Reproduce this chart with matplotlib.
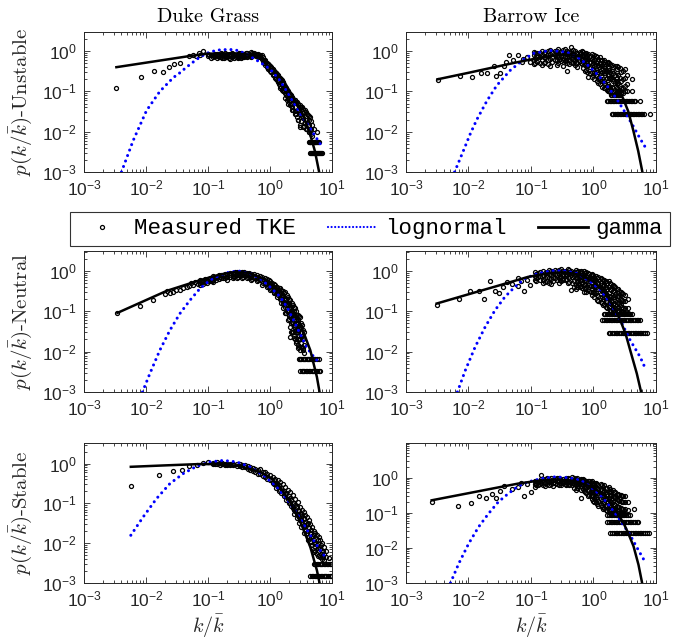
import numpy as np
import matplotlib.pyplot as plt
from matplotlib.lines import Line2D
from matplotlib.ticker import LogLocator, NullFormatter

plt.rcParams['font.family'] = 'Liberation Sans'
plt.rcParams['mathtext.fontset'] = 'cm'

# ---------------- Duke Grass, unstable ----------------
du_un_x = [0.00333, 0.00836, 0.0134, 0.0185, 0.0234, 0.0286, 0.0352, 0.0487, 0.058, 0.065, 0.0724, 0.074, 0.0841]
du_un_y = [0.123, 0.226, 0.324, 0.306, 0.40, 0.484, 0.513, 0.766, 0.81, 0.75, 0.89, 0.78, 1.0]
du_un_cols = [0.1, 0.12, 0.14, 0.16, 0.18, 0.2, 0.23, 0.26, 0.3, 0.34, 0.38, 0.43, 0.49, 0.56, 0.64,
              0.74, 0.8, 0.89, 1.0, 1.1, 1.2, 1.3, 1.42, 1.55, 1.7, 1.87, 2.05, 2.25, 2.5, 2.72,
              3.0, 3.3, 3.7, 4.1, 4.5, 5.06, 5.7]
du_un_vals = [[0.86, 0.75], [0.8, 0.7], [0.85, 0.68], [0.89, 0.72], [0.78, 0.68], [0.82, 0.7],
              [0.86, 0.74, 0.65], [0.8, 0.68], [0.85, 0.72, 0.66], [0.9, 0.75, 0.68], [0.85, 0.72],
              [0.9, 0.78, 0.7], [0.93, 0.8, 0.72], [0.9, 0.78], [0.85, 0.72],
              [0.78, 0.65], [0.62, 0.52], [0.5, 0.40], [0.42, 0.33], [0.36, 0.27], [0.30, 0.22],
              [0.27, 0.19], [0.22, 0.15], [0.19, 0.11], [0.14, 0.1], [0.096, 0.06], [0.085, 0.055],
              [0.072, 0.041], [0.06, 0.032], [0.054, 0.023], [0.045, 0.03, 0.013], [0.04, 0.025],
              [0.034, 0.016], [0.026, 0.014], [0.023, 0.012], [0.012], [0.0097]]
du_un_cols2 = [0.11, 0.13, 0.15, 0.17, 0.19, 0.215, 0.245, 0.28, 0.32, 0.36, 0.405, 0.46, 0.52, 0.6, 0.69,
               0.77, 0.84, 0.94, 1.05, 1.15, 1.25, 1.36, 1.48, 1.62, 1.78, 1.96, 2.15, 2.37, 2.6, 2.85,
               3.15, 3.5, 3.9, 4.3, 4.8]
du_un_vals2 = [[0.8, 0.68], [0.86, 0.74], [0.78, 0.7], [0.84, 0.66], [0.9, 0.74], [0.78, 0.68],
               [0.88, 0.7], [0.78, 0.7], [0.88, 0.74], [0.8, 0.7], [0.88, 0.74], [0.84, 0.74],
               [0.88, 0.76], [0.86, 0.74], [0.8, 0.7], [0.7, 0.58], [0.56, 0.46], [0.46, 0.36],
               [0.38, 0.3], [0.32, 0.25], [0.28, 0.2], [0.24, 0.17], [0.2, 0.13], [0.16, 0.11],
               [0.12, 0.08], [0.09, 0.065], [0.08, 0.05], [0.065, 0.035], [0.055, 0.028], [0.05, 0.02],
               [0.04, 0.018], [0.03, 0.014], [0.028, 0.012], [0.02, 0.01], [0.015, 0.008]]
du_un_cols3 = [0.105, 0.125, 0.145, 0.165, 0.195, 0.22, 0.25, 0.29, 0.33, 0.37, 0.42, 0.47, 0.54, 0.62, 0.7,
               0.82, 0.92, 1.02, 1.12, 1.23, 1.34, 1.46, 1.6, 1.75, 1.92, 2.1, 2.3, 2.55, 2.8, 3.1,
               3.4, 3.8, 4.2, 4.65]
du_un_vals3 = [[0.8], [0.76], [0.74], [0.8], [0.7], [0.76], [0.74], [0.76], [0.8], [0.76], [0.82], [0.8],
               [0.84], [0.8], [0.76], [0.6, 0.5], [0.48, 0.38], [0.4, 0.31], [0.34, 0.26], [0.29, 0.21],
               [0.25, 0.18], [0.21, 0.14, 0.12], [0.17, 0.12, 0.1], [0.13, 0.09, 0.07], [0.1, 0.07, 0.05],
               [0.085, 0.06, 0.045], [0.07, 0.05, 0.035], [0.06, 0.04, 0.027], [0.05, 0.035, 0.02],
               [0.042, 0.028, 0.015], [0.036, 0.022, 0.013], [0.03, 0.02, 0.012], [0.024, 0.015, 0.01],
               [0.018, 0.012, 0.009]]
du_un_bar_levels = [0.0057, 0.003]
du_un_bar_x = [[4.2, 4.35, 4.5, 4.65, 4.8, 4.95, 5.1, 5.25, 5.4, 5.6, 5.8, 6.0, 6.1],
               [4.47, 4.62, 4.8, 4.95, 5.1, 5.3, 5.5, 5.7, 5.9, 6.1, 6.4, 6.65, 6.9]]
du_un_logn_x = [0.00402, 0.0062, 0.0102, 0.0167, 0.0275, 0.0352, 0.045, 0.058, 0.074, 0.095, 0.122,
                0.157, 0.227, 0.29, 0.42, 0.69, 1.0, 1.44, 2.1, 3.08, 4.47, 6.46]
du_un_logn_y = [0.001, 0.006, 0.0335, 0.1, 0.22, 0.29, 0.40, 0.54, 0.71, 0.88, 1.0,
                1.08, 1.1, 1.05, 0.85, 0.53, 0.36, 0.19, 0.075, 0.028, 0.012, 0.005]
du_un_gam_x = [0.00333, 0.0452, 0.0951, 0.257, 0.612, 1.0, 1.65, 2.72, 3.5, 4.5, 5.3, 6.2]
du_un_gam_y = [0.40, 0.737, 0.86, 0.89, 0.78, 0.484, 0.187, 0.05, 0.024, 0.008, 0.0033, 0.001]

# ---------------- Barrow Ice, unstable ----------------
bi_un_x = [0.00321, 0.00738, 0.01135, 0.0158, 0.0197, 0.0252, 0.0274, 0.0321, 0.0364, 0.0401, 0.0453,
           0.0525, 0.0631, 0.0714, 0.0757, 0.085, 0.095]
bi_un_y = [0.195, 0.245, 0.227, 0.29, 0.29, 0.44, 0.235, 0.285, 0.44, 0.533, 0.78,
           0.587, 0.81, 0.533, 0.645, 0.70, 0.55]
bi_un_cols = [0.11, 0.125, 0.149, 0.17, 0.202, 0.24, 0.275, 0.32, 0.374, 0.43, 0.508, 0.6, 0.69,
              0.83, 0.938, 1.1, 1.27, 1.5, 1.73, 2.0, 2.35, 2.7, 3.2, 4.08]
bi_un_vals = [[0.97, 0.78, 0.60, 0.49], [0.9, 0.7, 0.55], [1.0, 0.80, 0.62, 0.45], [0.95, 0.72, 0.55],
              [1.05, 0.85, 0.65, 0.42], [1.0, 0.78, 0.6], [1.1, 0.9, 0.70, 0.50], [1.05, 0.8, 0.62, 0.44],
              [1.0, 0.85, 0.68, 0.52, 0.313], [1.3, 0.9, 0.7], [1.0, 0.8, 0.6, 0.45], [0.95, 0.75, 0.58],
              [0.95, 0.75, 0.55, 0.38], [0.85, 0.65, 0.45, 0.227], [0.85, 0.65, 0.45, 0.30, 0.23],
              [0.75, 0.55, 0.38, 0.26], [0.70, 0.50, 0.33, 0.20, 0.15], [0.6, 0.42, 0.28, 0.18, 0.12],
              [0.55, 0.38, 0.25, 0.15, 0.10], [0.45, 0.32, 0.2, 0.13, 0.09], [0.42, 0.28, 0.18, 0.12, 0.085],
              [0.38, 0.22, 0.14, 0.1], [0.36, 0.22, 0.14, 0.10], [0.2, 0.1]]
bi_un_cols2 = [0.118, 0.137, 0.159, 0.185, 0.22, 0.257, 0.297, 0.345, 0.4, 0.47, 0.55, 0.645, 0.76,
               0.88, 1.02, 1.18, 1.38, 1.62, 1.86, 2.17, 2.5, 2.95, 3.5]
bi_un_vals2 = [[0.88, 0.68, 0.52], [0.92, 0.72, 0.5], [0.9, 0.7, 0.52], [1.0, 0.8, 0.62, 0.48],
               [0.95, 0.72, 0.55], [1.0, 0.8, 0.6, 0.46], [0.95, 0.75, 0.58], [1.1, 0.92, 0.72, 0.56],
               [0.95, 0.75, 0.6, 0.48], [1.05, 0.85, 0.65, 0.5], [0.9, 0.7, 0.52, 0.4],
               [1.0, 0.8, 0.62, 0.48], [0.9, 0.7, 0.5, 0.35], [0.75, 0.55, 0.4, 0.28],
               [0.8, 0.6, 0.42, 0.28, 0.2], [0.65, 0.45, 0.3, 0.22, 0.16], [0.6, 0.45, 0.3, 0.2, 0.13],
               [0.5, 0.33, 0.22, 0.14, 0.11], [0.48, 0.3, 0.2, 0.12, 0.095], [0.44, 0.25, 0.16, 0.11],
               [0.4, 0.25, 0.16, 0.1, 0.09], [0.33, 0.2, 0.12, 0.09], [0.25, 0.15, 0.1]]
bi_un_cols3 = [0.29, 0.36, 0.44, 0.52, 0.62, 0.72, 0.8, 0.98, 1.14, 1.32, 1.55, 1.8, 2.08, 2.42, 2.8]
bi_un_vals3 = [[0.95, 0.65], [0.9, 0.62], [1.0, 0.78, 0.55], [0.9, 0.68, 0.5], [0.88, 0.66, 0.5],
               [0.85, 0.62, 0.46, 0.32], [0.8, 0.58, 0.42, 0.3], [0.7, 0.5, 0.36, 0.25],
               [0.7, 0.5, 0.34, 0.24, 0.18], [0.62, 0.42, 0.28, 0.18], [0.55, 0.38, 0.25, 0.16, 0.12],
               [0.5, 0.34, 0.22, 0.14, 0.1], [0.4, 0.28, 0.18, 0.12], [0.36, 0.22, 0.15, 0.1],
               [0.3, 0.18, 0.12, 0.09]]
bi_un_bar_levels = [0.0827, 0.0565, 0.0269]
bi_un_bar_x = [[1.9, 2.0, 2.1, 2.2, 2.3, 2.4, 2.5, 2.6, 2.7],
               [1.63, 1.72, 1.82, 1.93, 2.04, 2.16, 2.3, 2.45, 2.6, 2.75, 2.9, 3.1, 3.3, 3.5, 3.7,
                3.95, 4.2, 4.45, 4.7, 5.55],
               [1.96, 2.08, 2.2, 2.34, 2.48, 2.63, 2.8, 2.97, 3.15, 3.35, 3.55, 3.77, 4.0, 4.25, 4.5,
                4.8, 5.1, 5.4, 5.7, 6.0, 6.4, 8.0]]
bi_un_logn_x = [0.006, 0.00834, 0.0107, 0.0136, 0.0197, 0.0284, 0.0464, 0.0759, 0.11, 0.202, 0.374,
                0.611, 0.881, 1.27, 1.84, 2.35, 3.4, 4.35, 5.55, 7.36]
bi_un_logn_y = [0.001, 0.00344, 0.0089, 0.02, 0.058, 0.141, 0.332, 0.62, 0.88, 1.04, 0.945,
                0.645, 0.40, 0.227, 0.11, 0.065, 0.026, 0.0135, 0.0068, 0.0033]
bi_un_gam_x = [0.0032, 0.01, 0.03, 0.06, 0.1, 0.2, 0.35, 0.6, 1.0, 1.5, 2.2, 3.0, 3.6, 4.35, 5.2, 6.06]
bi_un_gam_y = [0.20, 0.29, 0.42, 0.53, 0.62, 0.76, 0.82, 0.75, 0.55, 0.36, 0.2, 0.065, 0.032, 0.0105, 0.0033, 0.001]

# ---------------- Duke Grass, neutral ----------------
du_ne_x = [0.00346, 0.00794, 0.0131, 0.0202, 0.0215, 0.024, 0.0275, 0.031, 0.0352, 0.039, 0.0452, 0.049,
           0.054, 0.058, 0.0616, 0.068]
du_ne_y = [0.091, 0.1356, 0.195, 0.274, 0.319, 0.29, 0.30, 0.34, 0.332, 0.37, 0.40, 0.43,
           0.50, 0.45, 0.533, 0.48]
du_ne_cols = [0.0743, 0.09, 0.107, 0.122, 0.15, 0.175, 0.2, 0.25, 0.291, 0.35, 0.422, 0.5, 0.612, 0.75,
              0.889, 1.0, 1.14, 1.3, 1.46, 1.6, 1.76, 1.95, 2.12, 2.35, 2.55, 2.8, 3.08, 3.3, 3.5]
du_ne_vals = [[0.60, 0.50, 0.45], [0.62, 0.52], [0.65, 0.55], [0.75, 0.60, 0.52], [0.78, 0.62], [0.8, 0.66],
              [0.85, 0.70, 0.60], [0.90, 0.75, 0.65], [0.945, 0.80, 0.66], [0.94, 0.78, 0.68],
              [0.9, 0.78, 0.65], [0.85, 0.72, 0.6], [0.80, 0.65, 0.55], [0.7, 0.55, 0.45],
              [0.62, 0.48, 0.40], [0.55, 0.42, 0.34], [0.47, 0.36, 0.28], [0.40, 0.3, 0.23],
              [0.38, 0.28, 0.2], [0.32, 0.22, 0.15], [0.3, 0.2, 0.13, 0.09], [0.23, 0.15, 0.1, 0.06],
              [0.19, 0.12, 0.07, 0.04, 0.023], [0.14, 0.09, 0.05, 0.03], [0.12, 0.07, 0.04, 0.02],
              [0.08, 0.05, 0.03, 0.015], [0.07, 0.04, 0.02, 0.011], [0.045, 0.025, 0.013], [0.03, 0.015, 0.009]]
du_ne_cols2 = [0.082, 0.098, 0.115, 0.136, 0.162, 0.187, 0.225, 0.27, 0.32, 0.385, 0.46, 0.55, 0.68, 0.82,
               0.95, 1.07, 1.22, 1.38, 1.53, 1.68, 1.85, 2.03, 2.23, 2.45, 2.67, 2.93, 3.2, 3.4]
du_ne_vals2 = [[0.56, 0.47], [0.6, 0.5], [0.68, 0.57], [0.72, 0.6], [0.8, 0.66], [0.82, 0.68],
               [0.88, 0.72], [0.92, 0.76], [0.95, 0.8], [0.92, 0.78], [0.88, 0.74], [0.82, 0.68],
               [0.75, 0.6], [0.66, 0.5], [0.58, 0.44], [0.5, 0.38], [0.44, 0.32], [0.38, 0.26],
               [0.34, 0.22], [0.28, 0.17], [0.25, 0.15, 0.1], [0.2, 0.12, 0.075],
               [0.16, 0.1, 0.055, 0.03], [0.13, 0.08, 0.045, 0.025], [0.1, 0.06, 0.035, 0.018],
               [0.075, 0.045, 0.025, 0.013], [0.05, 0.03, 0.016], [0.035, 0.02, 0.011]]
du_ne_cols3 = [0.08, 0.095, 0.11, 0.13, 0.155, 0.18, 0.215, 0.26, 0.31, 0.37, 0.44, 0.52, 0.64, 0.78,
               0.92, 1.04, 1.18, 1.34, 1.5, 1.65, 1.82, 2.0, 2.18, 2.4, 2.62, 2.86, 3.15, 3.45]
du_ne_vals3 = [[0.52], [0.56], [0.6], [0.66], [0.7], [0.74], [0.78], [0.82, 0.7], [0.86, 0.72],
               [0.86, 0.72], [0.82, 0.7], [0.78, 0.64], [0.7, 0.58], [0.62, 0.5], [0.52, 0.42],
               [0.46, 0.36], [0.4, 0.3], [0.34, 0.25], [0.28, 0.2, 0.16], [0.24, 0.16, 0.12],
               [0.2, 0.14, 0.09], [0.16, 0.1, 0.065], [0.13, 0.08, 0.05, 0.03], [0.1, 0.065, 0.04, 0.022],
               [0.08, 0.05, 0.03, 0.016], [0.06, 0.035, 0.02, 0.012], [0.04, 0.025, 0.013], [0.022, 0.012]]
du_ne_bar_levels = [0.0067, 0.0033]
du_ne_bar_x = [[2.89, 3.05, 3.2, 3.35, 3.5, 3.7, 3.9, 4.1, 4.3, 4.55, 4.8, 5.1, 5.4, 5.7, 6.08],
               [3.08, 3.25, 3.4, 3.6, 3.8, 4.0, 4.2, 4.45, 4.7, 4.95, 5.2, 5.5, 5.8, 6.1, 6.47]]
du_ne_logn_x = [0.00877, 0.01153, 0.0167, 0.0243, 0.0352, 0.0512, 0.0743, 0.1076, 0.156, 0.227, 0.33,
                0.478, 0.694, 1.0, 1.46, 1.87, 2.4, 3.08, 3.94, 5.06, 6.08]
du_ne_logn_y = [0.001, 0.00285, 0.0108, 0.0338, 0.0875, 0.1875, 0.365, 0.587, 0.78, 0.945, 0.98,
                0.86, 0.645, 0.40, 0.227, 0.128, 0.06, 0.027, 0.0125, 0.0075, 0.0055]
du_ne_gam_x = [0.00346, 0.0215, 0.0743, 0.15, 0.26, 0.45, 0.889, 1.8, 3.08, 4.47, 5.71, 6.3]
du_ne_gam_y = [0.091, 0.319, 0.587, 0.80, 0.92, 0.90, 0.587, 0.227, 0.049, 0.0108, 0.00235, 0.001]

# ---------------- Barrow Ice, neutral ----------------
bi_ne_x = [0.0031, 0.00716, 0.0107, 0.0145, 0.018, 0.0222, 0.0266, 0.0308, 0.036, 0.0417, 0.0488,
           0.0622, 0.0622, 0.07, 0.0774, 0.085, 0.0953]
bi_ne_y = [0.146, 0.206, 0.319, 0.319, 0.206, 0.565, 0.319, 0.285, 0.40, 0.533, 0.485,
           0.684, 0.417, 0.55, 0.319, 0.6, 0.44]
bi_ne_cols = [0.114, 0.13, 0.155, 0.18, 0.21, 0.245, 0.284, 0.33, 0.385, 0.435, 0.522, 0.6, 0.708,
              0.83, 0.96, 1.1, 1.3, 1.5, 1.76, 2.05, 2.38, 2.8, 3.23]
bi_ne_vals = [[0.945, 0.75, 0.6], [0.9, 0.7], [1.0, 0.8, 0.6, 0.5], [0.95, 0.72, 0.55],
              [1.0, 0.8, 0.62, 0.48], [1.05, 0.85, 0.65], [1.05, 0.85, 0.65, 0.5], [1.0, 0.8, 0.6],
              [1.1, 0.9, 0.7, 0.5], [1.0, 0.8, 0.344], [1.05, 0.85, 0.65, 0.45, 0.35],
              [0.95, 0.75, 0.55, 0.4], [1.0, 0.8, 0.6, 0.45, 0.3], [0.9, 0.7, 0.5, 0.35],
              [0.85, 0.65, 0.5, 0.35, 0.25], [0.75, 0.55, 0.4, 0.28], [0.65, 0.5, 0.38, 0.27, 0.17],
              [0.6, 0.45, 0.32, 0.22, 0.15], [0.55, 0.40, 0.28, 0.20, 0.13], [0.45, 0.32, 0.22, 0.15, 0.11],
              [0.36, 0.24, 0.17, 0.12], [0.3, 0.2, 0.14, 0.1], [0.25, 0.18, 0.12, 0.09]]
bi_ne_cols2 = [0.122, 0.142, 0.167, 0.195, 0.227, 0.265, 0.307, 0.357, 0.41, 0.48, 0.56, 0.65, 0.77,
               0.9, 1.03, 1.2, 1.4, 1.63, 1.9, 2.2, 2.58, 3.0, 3.6]
bi_ne_vals2 = [[0.85, 0.68, 0.55], [0.95, 0.75, 0.58], [0.88, 0.68, 0.52], [1.05, 0.85, 0.66, 0.5],
               [0.95, 0.72, 0.56], [1.0, 0.78, 0.6], [1.1, 0.9, 0.7, 0.55], [0.95, 0.75, 0.58],
               [1.05, 0.88, 0.68, 0.52], [0.95, 0.75, 0.55, 0.4], [1.0, 0.8, 0.6, 0.45],
               [0.9, 0.7, 0.5, 0.38], [0.95, 0.75, 0.55, 0.4, 0.3], [0.8, 0.6, 0.42, 0.3],
               [0.72, 0.55, 0.4, 0.28, 0.22], [0.7, 0.5, 0.35, 0.24, 0.18], [0.6, 0.42, 0.3, 0.2, 0.14],
               [0.5, 0.36, 0.25, 0.17, 0.12], [0.48, 0.33, 0.22, 0.15, 0.1], [0.4, 0.27, 0.18, 0.12, 0.095],
               [0.32, 0.22, 0.15, 0.1], [0.27, 0.18, 0.12, 0.09], [0.2, 0.12, 0.09]]
bi_ne_cols3 = [0.29, 0.37, 0.45, 0.54, 0.63, 0.74, 0.86, 1.0, 1.15, 1.35, 1.57, 1.83, 2.12, 2.48, 2.9]
bi_ne_vals3 = [[0.95, 0.75, 0.58], [1.0, 0.82, 0.62], [0.9, 0.7, 0.5], [0.92, 0.72, 0.52, 0.4],
               [0.98, 0.78, 0.58, 0.42], [0.88, 0.66, 0.48, 0.35], [0.85, 0.62, 0.45, 0.32],
               [0.78, 0.58, 0.42, 0.3], [0.68, 0.5, 0.36, 0.25, 0.19], [0.62, 0.45, 0.32, 0.22, 0.16],
               [0.55, 0.4, 0.27, 0.18, 0.13], [0.5, 0.36, 0.24, 0.16, 0.11], [0.42, 0.3, 0.2, 0.13, 0.1],
               [0.35, 0.24, 0.16, 0.11], [0.28, 0.19, 0.13, 0.095]]
bi_ne_bar_levels = [0.0875, 0.0598, 0.029]
bi_ne_bar_x = [[1.46, 1.55, 1.65, 1.75, 1.86, 1.98, 2.1, 2.23, 2.37, 2.52, 2.68, 2.85, 3.03, 3.22,
                3.42, 3.64, 3.87, 4.12],
               [1.38, 1.47, 1.56, 1.66, 1.77, 1.88, 2.0, 2.13, 2.27, 2.42, 2.58, 2.75, 2.93, 3.12,
                3.32, 3.54, 3.77, 4.0, 4.3, 4.6, 4.9, 5.2, 5.58],
               [1.76, 1.87, 1.99, 2.12, 2.26, 2.41, 2.57, 2.74, 2.92, 3.11, 3.31, 3.53, 3.76, 4.0,
                4.26, 4.54, 4.84, 5.16, 5.5, 5.86, 6.25, 6.65, 7.1]]
bi_ne_logn_x = [0.00665, 0.0089, 0.0128, 0.0185, 0.0266, 0.0383, 0.0551, 0.0794, 0.129, 0.21, 0.341,
                0.555, 0.9, 1.3, 1.87, 2.69, 3.87, 5.58, 6.7]
bi_ne_logn_y = [0.001, 0.00344, 0.0131, 0.0409, 0.106, 0.227, 0.40, 0.645, 0.86, 1.0, 1.0,
                0.86, 0.533, 0.332, 0.155, 0.0598, 0.0191, 0.00738, 0.00394]
bi_ne_gam_x = [0.0031, 0.01, 0.03, 0.09, 0.2, 0.35, 0.6, 1.0, 1.6, 2.2, 2.69, 3.3, 3.87, 4.94, 5.78]
bi_ne_gam_y = [0.155, 0.263, 0.43, 0.71, 0.88, 0.92, 0.8, 0.55, 0.27, 0.11, 0.06, 0.026, 0.0108, 0.00285, 0.001]

# ---------------- Duke Grass, stable ----------------
du_st_x = [0.00569, 0.0163, 0.0275, 0.0385, 0.0493, 0.0656, 0.0841, 0.101]
du_st_y = [0.269, 0.529, 0.654, 0.706, 0.857, 0.908, 1.04, 1.1]
du_st_cols = [0.12, 0.138, 0.17, 0.2, 0.257, 0.33, 0.4, 0.478, 0.58, 0.694, 0.83, 1.0, 1.2, 1.46, 1.75,
              2.12, 2.55, 3.08, 3.5, 3.94, 4.5, 5.06, 5.7, 6.47, 7.5, 8.83]
du_st_vals = [[1.05, 0.95], [1.1, 0.95], [1.05, 0.95], [1.0, 0.92], [1.0, 0.9], [0.95, 0.85], [0.9, 0.8],
              [0.82, 0.7], [0.75, 0.62], [0.72, 0.55], [0.6, 0.45], [0.52, 0.38], [0.42, 0.3],
              [0.34, 0.22], [0.26, 0.17], [0.19, 0.14, 0.1], [0.13, 0.09, 0.065], [0.08, 0.055, 0.038],
              [0.06, 0.04, 0.026], [0.045, 0.03, 0.018], [0.03, 0.018, 0.011], [0.02, 0.012, 0.0068],
              [0.016, 0.009, 0.0055], [0.012, 0.007, 0.0045], [0.008, 0.0052, 0.0037], [0.00433]]
du_st_cols2 = [0.13, 0.155, 0.185, 0.225, 0.29, 0.36, 0.44, 0.53, 0.64, 0.76, 0.9, 1.1, 1.33, 1.6, 1.93,
               2.33, 2.8, 3.3, 3.7, 4.2, 4.8, 5.4, 6.1, 6.9, 8.0]
du_st_vals2 = [[1.0], [1.02, 0.92], [1.0, 0.9], [0.98, 0.9], [0.95, 0.86], [0.9, 0.8], [0.85, 0.74],
               [0.78, 0.66], [0.7, 0.56], [0.62, 0.48], [0.55, 0.4], [0.46, 0.33], [0.38, 0.26],
               [0.3, 0.19], [0.22, 0.13], [0.16, 0.1, 0.075], [0.11, 0.07, 0.05], [0.07, 0.047, 0.032],
               [0.052, 0.034, 0.022], [0.038, 0.024, 0.014], [0.025, 0.015, 0.009], [0.018, 0.011, 0.0065],
               [0.014, 0.008, 0.005], [0.01, 0.006, 0.004], [0.0065, 0.0045]]
du_st_cols3 = [1.05, 1.15, 1.27, 1.4, 1.53, 1.68, 1.84, 2.02, 2.22, 2.45, 2.68, 2.95, 3.2, 3.6, 4.05,
               4.6, 5.2, 5.9, 6.6, 7.2]
du_st_vals3 = [[0.42], [0.38, 0.3], [0.33, 0.25], [0.29, 0.2], [0.25, 0.18], [0.2, 0.15], [0.18, 0.12],
               [0.15, 0.1], [0.12, 0.085], [0.1, 0.07, 0.055], [0.08, 0.055, 0.042], [0.065, 0.045, 0.032],
               [0.055, 0.038, 0.026], [0.042, 0.028, 0.018], [0.032, 0.02, 0.012], [0.022, 0.014, 0.009],
               [0.016, 0.01, 0.006], [0.012, 0.0075, 0.0048], [0.009, 0.0055], [0.0065, 0.0045]]
du_st_bar_levels = [0.00294, 0.00147]
du_st_bar_x = [[5.06, 5.35, 5.65, 5.95, 6.3, 6.65, 7.0, 7.4, 7.8, 8.2, 8.7, 9.2, 9.8],
               [4.47, 4.72, 5.0, 5.3, 5.6, 5.9, 6.2, 6.55, 6.9, 7.3, 7.7, 8.1, 8.6, 9.2, 9.8]]
du_st_logn_x = [0.00569, 0.009, 0.0148, 0.0243, 0.0399, 0.0656, 0.1076, 0.177, 0.291, 0.478, 0.785,
                1.29, 2.12, 3.08, 4.47, 6.47, 7.8]
du_st_logn_y = [0.0158, 0.0456, 0.132, 0.314, 0.561, 0.857, 1.1, 1.2, 1.1, 0.824, 0.509,
                0.259, 0.0986, 0.0414, 0.0158, 0.0066, 0.0045]
du_st_gam_x = [0.00569, 0.02, 0.07, 0.15, 0.3, 0.694, 1.0, 1.46, 2.12, 3.08, 4.47, 5.71, 6.3]
du_st_gam_y = [0.83, 0.9, 0.97, 0.97, 0.88, 0.617, 0.45, 0.259, 0.105, 0.035, 0.008, 0.00208, 0.001]

# ---------------- Barrow Ice, stable ----------------
bi_st_x = [0.00258, 0.00682, 0.011, 0.015, 0.0192, 0.0241, 0.0276, 0.0319, 0.0374, 0.0488, 0.0622,
           0.0703, 0.0774, 0.085, 0.101]
bi_st_y = [0.203, 0.156, 0.19, 0.307, 0.258, 0.335, 0.258, 0.417, 0.566, 0.486, 0.542,
           0.705, 0.307, 0.65, 0.399]
bi_st_cols = [0.114, 0.13, 0.146, 0.155, 0.18, 0.21, 0.245, 0.284, 0.33, 0.385, 0.45, 0.522, 0.627,
              0.708, 0.83, 0.96, 1.1, 1.3, 1.5, 1.76, 2.05, 2.38, 2.8, 3.23, 4.38]
bi_st_vals = [[0.8, 0.65, 0.55], [0.75, 0.6], [1.165, 0.9, 0.7], [0.85, 0.6], [1.0, 0.8, 0.65],
              [0.95, 0.8, 0.65], [0.9, 0.72], [0.95, 0.78, 0.62], [0.9, 0.7], [0.95, 0.8, 0.65],
              [1.05, 0.85, 0.7], [0.9, 0.75, 0.6, 0.45], [0.85, 0.65, 0.269], [0.85, 0.7, 0.55, 0.42],
              [0.8, 0.6, 0.45, 0.3], [0.8, 0.6, 0.45, 0.32, 0.25], [0.7, 0.55, 0.4, 0.28, 0.2],
              [0.65, 0.48, 0.35, 0.24, 0.17], [0.6, 0.42, 0.3, 0.2, 0.14], [0.55, 0.38, 0.26, 0.17, 0.12],
              [0.45, 0.3, 0.2, 0.14, 0.1], [0.35, 0.24, 0.16, 0.11], [0.32, 0.22, 0.14, 0.1],
              [0.3, 0.2, 0.13, 0.095], [0.131]]
bi_st_cols2 = [0.122, 0.138, 0.167, 0.195, 0.227, 0.265, 0.307, 0.357, 0.41, 0.48, 0.56, 0.67, 0.77,
               0.9, 1.03, 1.2, 1.4, 1.63, 1.9, 2.2, 2.58, 3.0, 3.6]
bi_st_vals2 = [[0.72, 0.6], [0.8, 0.65], [0.9, 0.72, 0.58], [0.92, 0.75, 0.62], [0.88, 0.7, 0.58],
               [0.95, 0.78, 0.64], [0.88, 0.72, 0.6], [0.98, 0.8, 0.66], [0.9, 0.75, 0.62],
               [0.95, 0.8, 0.65, 0.52], [0.88, 0.72, 0.58], [0.9, 0.75, 0.6, 0.48], [0.8, 0.65, 0.5, 0.36],
               [0.75, 0.58, 0.42, 0.3], [0.7, 0.52, 0.38, 0.27, 0.2], [0.62, 0.46, 0.33, 0.22, 0.16],
               [0.55, 0.4, 0.28, 0.19, 0.13], [0.5, 0.35, 0.24, 0.16, 0.11], [0.42, 0.3, 0.2, 0.13, 0.09],
               [0.38, 0.26, 0.17, 0.12], [0.33, 0.22, 0.15, 0.1], [0.3, 0.2, 0.13, 0.095], [0.2, 0.12]]
bi_st_cols3 = [0.29, 0.37, 0.45, 0.54, 0.63, 0.74, 0.86, 1.0, 1.15, 1.35, 1.57, 1.83, 2.12, 2.48, 2.9]
bi_st_vals3 = [[0.9, 0.72], [0.92, 0.75, 0.62], [0.88, 0.72, 0.6], [0.95, 0.8, 0.65, 0.5],
               [0.9, 0.75, 0.58, 0.45], [0.82, 0.66, 0.5, 0.38], [0.78, 0.6, 0.45, 0.33],
               [0.72, 0.55, 0.4, 0.29, 0.22], [0.66, 0.5, 0.36, 0.25, 0.18], [0.6, 0.44, 0.31, 0.21, 0.15],
               [0.52, 0.38, 0.26, 0.17, 0.12], [0.46, 0.33, 0.22, 0.15, 0.1], [0.4, 0.28, 0.18, 0.12, 0.09],
               [0.34, 0.23, 0.15, 0.1], [0.3, 0.2, 0.13, 0.09]]
bi_st_bar_levels = [0.0845, 0.0546, 0.0265]
bi_st_bar_x = [[1.66, 1.77, 1.88, 2.0, 2.13, 2.27, 2.42, 2.58, 2.75, 2.93, 3.12, 3.33, 3.6, 3.87],
               [1.66, 1.77, 1.88, 2.0, 2.13, 2.27, 2.42, 2.58, 2.75, 2.93, 3.12, 3.33, 3.55, 3.78,
                4.03, 4.3, 4.58, 4.9, 5.25],
               [1.87, 1.99, 2.12, 2.26, 2.41, 2.57, 2.74, 2.92, 3.11, 3.31, 3.53, 3.76, 4.0, 4.26,
                4.54, 4.84, 5.16, 5.5, 5.86, 6.25, 6.65, 7.1, 7.85]]
bi_st_logn_x = [0.00515, 0.00698, 0.01007, 0.0145, 0.0209, 0.03, 0.0433, 0.0622, 0.0897, 0.146, 0.237,
                0.385, 0.627, 0.9, 1.3, 1.87, 2.69, 3.87, 5.25, 6.95]
bi_st_logn_y = [0.001, 0.00355, 0.0132, 0.0393, 0.0942, 0.203, 0.35, 0.566, 0.753, 0.937, 1.045,
                1.0, 0.84, 0.542, 0.314, 0.146, 0.0608, 0.0228, 0.0085, 0.00355]
bi_st_gam_x = [0.00258, 0.01, 0.03, 0.0622, 0.12, 0.25, 0.5, 1.0, 1.6, 2.2, 3.04, 3.6, 4.38, 5.25, 6.0]
bi_st_gam_y = [0.226, 0.36, 0.526, 0.675, 0.8, 0.88, 0.8, 0.52, 0.28, 0.13, 0.05, 0.026, 0.011, 0.0033, 0.001]

row_names = ['Unstable', 'Neutral', 'Stable']
col_names = ['Duke Grass', 'Barrow Ice']
legend_labels = ['Measured TKE', 'lognormal', 'gamma']

panels = [
    [(du_un_x, du_un_y, [(du_un_cols, du_un_vals), (du_un_cols2, du_un_vals2), (du_un_cols3, du_un_vals3)],
      du_un_bar_levels, du_un_bar_x, du_un_logn_x, du_un_logn_y, du_un_gam_x, du_un_gam_y),
     (bi_un_x, bi_un_y, [(bi_un_cols, bi_un_vals), (bi_un_cols2, bi_un_vals2), (bi_un_cols3, bi_un_vals3)],
      bi_un_bar_levels, bi_un_bar_x, bi_un_logn_x, bi_un_logn_y, bi_un_gam_x, bi_un_gam_y)],
    [(du_ne_x, du_ne_y, [(du_ne_cols, du_ne_vals), (du_ne_cols2, du_ne_vals2), (du_ne_cols3, du_ne_vals3)],
      du_ne_bar_levels, du_ne_bar_x, du_ne_logn_x, du_ne_logn_y, du_ne_gam_x, du_ne_gam_y),
     (bi_ne_x, bi_ne_y, [(bi_ne_cols, bi_ne_vals), (bi_ne_cols2, bi_ne_vals2), (bi_ne_cols3, bi_ne_vals3)],
      bi_ne_bar_levels, bi_ne_bar_x, bi_ne_logn_x, bi_ne_logn_y, bi_ne_gam_x, bi_ne_gam_y)],
    [(du_st_x, du_st_y, [(du_st_cols, du_st_vals), (du_st_cols2, du_st_vals2), (du_st_cols3, du_st_vals3)],
      du_st_bar_levels, du_st_bar_x, du_st_logn_x, du_st_logn_y, du_st_gam_x, du_st_gam_y),
     (bi_st_x, bi_st_y, [(bi_st_cols, bi_st_vals), (bi_st_cols2, bi_st_vals2), (bi_st_cols3, bi_st_vals3)],
      bi_st_bar_levels, bi_st_bar_x, bi_st_logn_x, bi_st_logn_y, bi_st_gam_x, bi_st_gam_y)],
]

# axes boxes in figure fractions
lefts = [0.1207, 0.5833]
widths = [0.3563, 0.3592]
bottoms = [0.7313, 0.3875, 0.0891]
heights = [0.2188, 0.2203, 0.2188]
ytops = [[3.0, 3.0], [3.1, 3.1], [3.3, 9.7]]

gray = '#262626'
mk = dict(marker='o', ls='none', mfc='none', mec='k', ms=2.9, mew=0.9)
dots = dict(color='blue', lw=2.2, dashes=(0.01, 1.9), dash_capstyle='round')

fig = plt.figure(figsize=(6.96, 6.40), dpi=100)

for r in range(3):
    for c in range(2):
        (px, py, colsets, levels, barx, lnx, lny, gx, gy) = panels[r][c]
        ax = fig.add_axes([lefts[c], bottoms[r], widths[c], heights[r]])
        # gather measured points
        mx, my = list(px), list(py)
        for cols, vals in colsets:
            for cx, vs in zip(cols, vals):
                mx += [cx] * len(vs)
                my += vs
        for lev, bx in zip(levels, barx):
            mx += bx
            my += [lev] * len(bx)
        ax.plot(mx, my, **mk)
        ax.plot(lnx, lny, **dots)
        ax.plot(gx, gy, color='k', lw=1.8)

        ax.set_xscale('log')
        ax.set_yscale('log')
        ax.set_xlim(1e-3, 10)
        ax.set_ylim(1e-3, ytops[r][c])
        ax.set_xticks([1e-3, 1e-2, 1e-1, 1e0, 1e1])
        ax.set_yticks([1e-3, 1e-2, 1e-1, 1e0])
        ax.xaxis.set_minor_locator(LogLocator(base=10, subs=np.arange(2, 10)))
        ax.yaxis.set_minor_locator(LogLocator(base=10, subs=np.arange(2, 10)))
        ax.xaxis.set_minor_formatter(NullFormatter())
        ax.yaxis.set_minor_formatter(NullFormatter())
        ax.tick_params(which='both', direction='in', top=True, right=True,
                       color=gray, labelcolor=gray, labelsize=12.5, width=0.6)
        ax.tick_params(which='major', length=4, pad=5)
        ax.tick_params(which='minor', length=2)
        for s in ax.spines.values():
            s.set_color(gray)
            s.set_linewidth(0.7)

        if c == 0:
            ax.set_ylabel(r'$p(k/\bar{k})$-' + row_names[r], fontsize=15,
                          family='cmr10', color=gray)
            ax.yaxis.set_label_coords(-0.2, 0.5)
        if r == 0:
            ax.set_title(col_names[c], fontsize=14.5, family='cmr10', pad=7)
        if r == 2:
            ax.set_xlabel(r'$k/\bar{k}$', fontsize=14.5, color=gray, labelpad=2)

handles = [Line2D([], [], **mk),
           Line2D([], [], color='blue', lw=1.6, dashes=(0.01, 1.6), dash_capstyle='round'),
           Line2D([], [], color='k', lw=2.0)]
leg = fig.legend(handles, legend_labels, loc='center', bbox_to_anchor=(0.5316, 0.6422),
                 ncol=3, frameon=True, fancybox=False, edgecolor='k',
                 prop={'family': 'Liberation Mono', 'size': 16.2},
                 handlelength=2.2, handletextpad=0.35, columnspacing=1.4, borderpad=0.3)
leg.get_frame().set_linewidth(0.8)

fig.savefig('out.png', dpi=100)
